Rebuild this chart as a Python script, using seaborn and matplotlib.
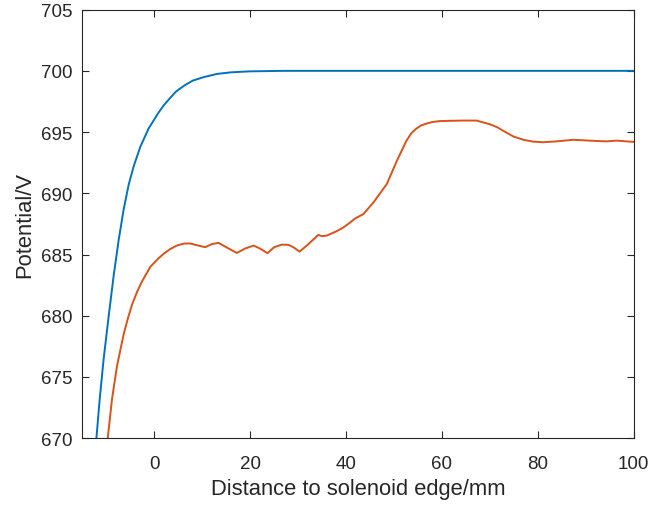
import pandas as pd
import seaborn as sns
import matplotlib.pyplot as plt

# values
blue_x = [-12.08, -11.39, -10.56, -9.51, -8.47, -7.43, -6.39, -5.35, -4.31, -2.92,
          -1.18, 0.9, 2.0, 3.33, 4.5, 6.25, 8, 10.4, 13.1, 16, 20, 27, 40, 60, 80, 100]
blue_y = [670, 673.2, 676.5, 680.0, 683.3, 686.2, 688.7, 690.7, 692.2, 693.8,
          695.3, 696.6, 697.2, 697.8, 698.3, 698.8, 699.2, 699.5, 699.75, 699.88,
          699.96, 700, 700, 700, 700, 700]

orange_x = [-9.72, -8.82, -7.78, -6.39, -5.5, -4.65, -3.6, -2.57, -0.83, 0.9, 2.08,
            3.33, 4.8, 6.25, 7.5, 9, 10.6, 12, 13.4, 15, 17.2, 19, 20.7, 22, 23.6, 25,
            26.6, 28, 29, 30.3, 32, 34.2, 35, 36, 38, 39.4, 40.8, 41.9, 43.6, 45.7,
            48.5, 50.6, 52.6, 53.6, 54.7, 55.7, 56.8, 58, 59.6, 64.4, 67.2, 70, 71.5,
            72.8, 74.9, 76, 77, 79, 81.1, 83.9, 87.4, 90.8, 94.3, 96.4, 100]
orange_y = [670, 673.2, 675.9, 678.5, 679.8, 680.9, 681.95, 682.8, 684.0, 684.7, 685.1,
            685.45, 685.75, 685.9, 685.9, 685.75, 685.6, 685.85, 685.95, 685.6, 685.13,
            685.5, 685.73, 685.5, 685.11, 685.6, 685.81, 685.79, 685.6, 685.24, 685.8,
            686.6, 686.5, 686.55, 686.9, 687.2, 687.6, 687.95, 688.3, 689.25, 690.76,
            692.66, 694.3, 694.9, 695.3, 695.55, 695.7, 695.82, 695.9, 695.94, 695.94,
            695.64, 695.4, 695.1, 694.64, 694.5, 694.37, 694.22, 694.17, 694.24,
            694.37, 694.3, 694.24, 694.3, 694.2]

x_ticks = [0, 20, 40, 60, 80, 100]
y_ticks = [670, 675, 680, 685, 690, 695, 700, 705]

df_blue = pd.DataFrame({'x': blue_x, 'y': blue_y})
df_orange = pd.DataFrame({'x': orange_x, 'y': orange_y})

sns.set_style('white')
plt.rcParams['font.family'] = ['Liberation Sans', 'DejaVu Sans']

fig = plt.figure(figsize=(6.54, 5.06), dpi=100)
ax = fig.add_axes([0.126, 0.132, 0.843, 0.847])

sns.lineplot(data=df_blue, x='x', y='y', ax=ax, color='#0072BD', linewidth=1.4,
             estimator=None, sort=False, solid_joinstyle='round')
sns.lineplot(data=df_orange, x='x', y='y', ax=ax, color='#D95319', linewidth=1.4,
             estimator=None, sort=False, solid_joinstyle='round')

ax.set_xlim(-15, 100)
ax.set_ylim(670, 705)
ax.set_xticks(x_ticks)
ax.set_yticks(y_ticks)
ax.tick_params(direction='in', length=5, width=0.8, colors='#262626',
               labelsize=13.5, top=True, right=True, bottom=True, left=True)
ax.tick_params(axis='x', pad=12)
ax.tick_params(axis='y', pad=7.3)
for s in ax.spines.values():
    s.set_visible(True)
    s.set_color('#262626')
    s.set_linewidth(0.8)

ax.set_xlabel('Distance to solenoid edge/mm', fontsize=15.8, color='#262626', labelpad=4.5)
ax.set_ylabel('Potential/V', fontsize=15.8, color='#262626', labelpad=4)

fig.savefig('out.png', dpi=100)
